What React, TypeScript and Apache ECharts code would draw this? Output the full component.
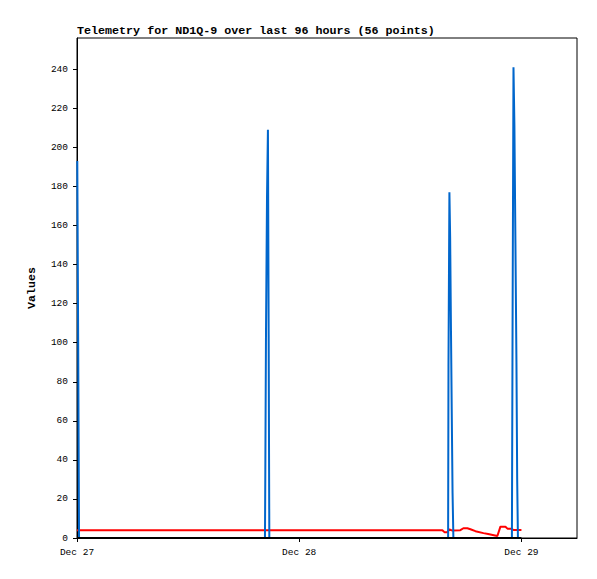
import React, { useEffect, useRef } from "react";
import * as echarts from "echarts";

// Time is given as hours since Dec 27 00:00
const dayLabels = ["Dec 27", "Dec 28", "Dec 29"];
const yTicks = [0, 20, 40, 60, 80, 100, 120, 140, 160, 180, 200, 220, 240];

const blueHours = [
  0.03, 0.13, 0.22,
  20.30, 20.34, 20.41, 20.52, 20.62, 20.70, 20.77,
  40.08, 40.12, 40.22, 40.30, 40.39, 40.47, 40.56, 40.65,
  46.97, 47.05, 47.14, 47.24, 47.35, 47.46, 47.54, 47.62,
];
const blueValues = [
  193, 97, 0,
  0, 35, 104, 174, 209, 104, 0,
  0, 88, 177, 154, 106, 66, 23, 0,
  0, 121, 241, 211, 151, 90, 30, 0,
];

const redHours = [
  0, 39.46, 39.68, 40.0, 40.22, 40.54, 41.4, 41.73, 42.16, 42.49, 43.03,
  43.9, 44.4, 45.4, 45.73, 46.27, 46.49, 46.92, 47.14, 48,
];
const redValues = [
  4, 4, 3, 3, 4.4, 3.8, 4, 5, 5, 4.5, 3.5, 2.5, 2, 1, 5.8, 5.8, 4.8, 4.8, 4.1, 4.1,
];

const zeroHours = [0, 48];
const zeroValues = [0, 0];

const FONT = "'Liberation Mono', 'DejaVu Sans Mono', monospace";

export default function App() {
  const ref = useRef<HTMLDivElement>(null);
  useEffect(() => {
    if (!ref.current) return;
    const chart = echarts.init(ref.current, null, { renderer: "svg" });
    const pair = (xs: number[], ys: number[]) => xs.map((x, i) => [x, ys[i]]);
    chart.setOption({
      animation: false,
      backgroundColor: "#ffffff",
      title: {
        text: "Telemetry for ND1Q-9 over last 96 hours (56 points)",
        left: 77,
        top: 25,
        padding: 0,
        textStyle: { fontFamily: FONT, fontSize: 11.7, fontWeight: "bold", color: "#000" },
      },
      grid: {
        left: 77,
        top: 38,
        right: 20,
        bottom: 41,
        show: true,
        borderColor: "#000",
        borderWidth: 1,
        backgroundColor: "transparent",
      },
      xAxis: {
        type: "value",
        min: 0,
        max: 54,
        interval: 24,
        axisLine: { show: true, lineStyle: { color: "#000", width: 1 } },
        axisTick: { show: true, length: 4, lineStyle: { color: "#000" } },
        splitLine: { show: false },
        axisLabel: {
          margin: 9,
          fontFamily: FONT,
          fontSize: 9.5,
          color: "#000",
          showMaxLabel: false,
          formatter: (v: number) => {
            const i = Math.round(v / 24);
            return Math.abs(v - i * 24) < 1e-6 && dayLabels[i] ? dayLabels[i] : "";
          },
        },
      },
      yAxis: {
        type: "value",
        min: 0,
        max: 256,
        interval: 20,
        name: "Values",
        nameLocation: "middle",
        nameGap: 40,
        nameTextStyle: { fontFamily: FONT, fontSize: 11.6, fontWeight: "bold", color: "#000" },
        axisLine: { show: true, lineStyle: { color: "#000", width: 1 } },
        axisTick: { show: true, length: 4, lineStyle: { color: "#000" } },
        splitLine: { show: false },
        axisLabel: {
          margin: 9,
          fontFamily: FONT,
          fontSize: 9.5,
          color: "#000",
          showMaxLabel: false,
          formatter: (v: number) => (yTicks.indexOf(v) >= 0 ? String(v) : ""),
        },
      },
      series: [
        {
          type: "line",
          data: pair(redHours, redValues),
          showSymbol: false,
          lineStyle: { color: "#ff0000", width: 2 },
          itemStyle: { color: "#ff0000" },
        },
        {
          type: "line",
          data: pair(blueHours, blueValues),
          showSymbol: false,
          lineStyle: { color: "#0066cc", width: 2 },
          itemStyle: { color: "#0066cc" },
        },
        {
          type: "line",
          data: pair(zeroHours, zeroValues),
          showSymbol: false,
          lineStyle: { color: "#000000", width: 2 },
          itemStyle: { color: "#000000" },
        },
      ],
    });
    return () => chart.dispose();
  }, []);
  return (
    <div
      ref={ref}
      style={{ position: "fixed", left: 0, top: 0, width: 597, height: 579, background: "#fff" }}
    />
  );
}
